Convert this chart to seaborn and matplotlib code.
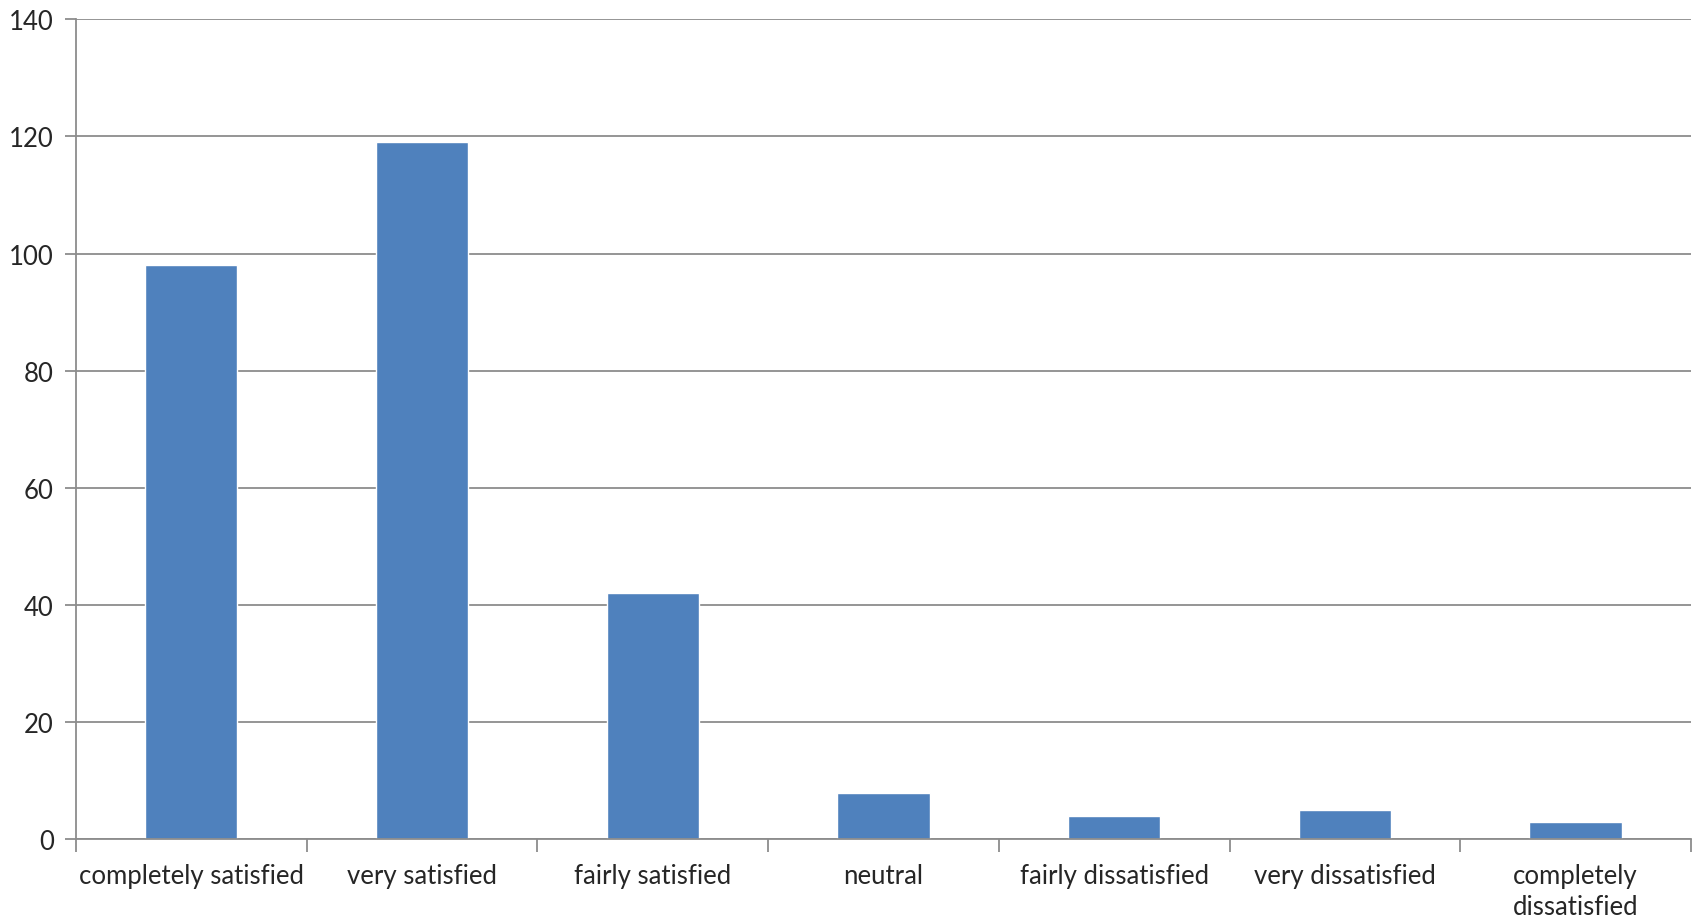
import matplotlib
matplotlib.use("Agg")
import matplotlib.pyplot as plt
from matplotlib.ticker import FixedLocator
import seaborn as sns
import pandas as pd
import numpy as np

categories = ["completely satisfied", "very satisfied", "fairly satisfied", "neutral",
              "fairly dissatisfied", "very dissatisfied", "completely\ndissatisfied"]
counts = [98, 119, 42, 8, 4, 5, 3]
y_ticks = [0, 20, 40, 60, 80, 100, 120, 140]

sns.set_theme(style="white")
plt.rcParams["font.family"] = ["Lato", "DejaVu Sans"]

df = pd.DataFrame({"category": categories, "count": counts})

fig = plt.figure(figsize=(16.96, 9.2), dpi=100)
ax = fig.add_axes([0.0448, 0.0865, 0.9522, 0.8915])

grid_color = "#8c8c8c"
ax.set_axisbelow(True)
ax.yaxis.grid(True, color=grid_color, linewidth=1.3)

sns.barplot(data=df, x="category", y="count", color="#4F81BD", saturation=1,
            width=0.4, ax=ax)

ax.set_xlim(-0.5, len(categories) - 0.5)
ax.set_ylim(0, 140)
ax.set_yticks(y_ticks)
ax.set_xlabel("")
ax.set_ylabel("")

for side in ["top", "right"]:
    ax.spines[side].set_visible(False)
for side in ["left", "bottom"]:
    ax.spines[side].set_color(grid_color)
    ax.spines[side].set_linewidth(1.3)

ax.tick_params(axis="y", which="major", length=8, width=1.3, color=grid_color,
               labelsize=18.5, pad=8, left=True)
ax.tick_params(axis="x", which="major", length=0, labelsize=18.5, pad=17)
for lbl in ax.get_xticklabels():
    lbl.set_linespacing(1.3)
ax.xaxis.set_minor_locator(FixedLocator(np.arange(-0.5, len(categories), 1.0)))
ax.tick_params(axis="x", which="minor", length=9, width=1.3, color=grid_color,
               bottom=True)

fig.savefig("out.png", dpi=100, facecolor="white")
